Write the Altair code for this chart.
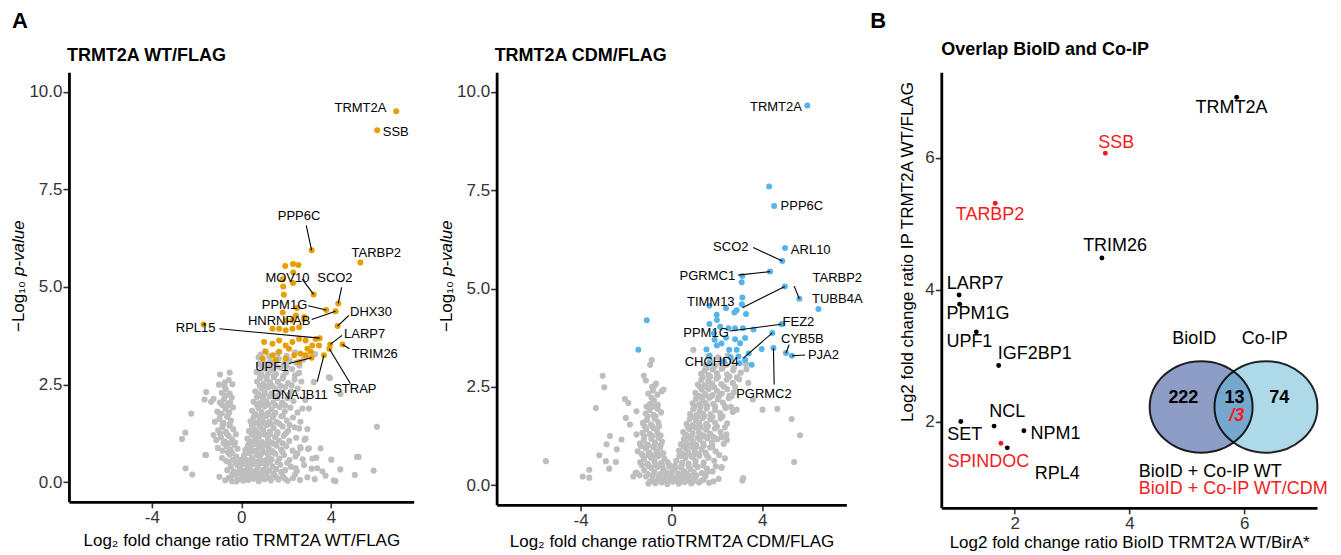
import altair as alt
import pandas as pd

FONT = "Liberation Sans"
GRAY = "#BEBEBE"
ORANGE = "#E69F00"
BLUE = "#56B4E9"
RED = "#F21D1D"

# ---------------- Panel A1: TRMT2A WT/FLAG ----------------
wt_gray_x = [
    -0.72, -0.55, -0.41, -0.28, -0.15, -0.03, 0.08, 0.19, 0.31, 0.42, 0.55, 0.66, 0.78, 0.91, 1.03, 1.17, 1.32,
    1.48, 1.66, 1.85, 2.07, 2.31, 2.62, 2.95, 3.28,
    -0.63, -0.47, -0.33, -0.18, -0.06, 0.05, 0.16, 0.27, 0.38, 0.50, 0.61, 0.73, 0.86, 0.97, 1.10, 1.24, 1.39,
    1.55, 1.74, 1.96, 2.21, 2.48, 2.80, 3.14, 3.62, 4.42,
    -0.86, -0.68, -0.52, -0.37, -0.22, -0.09, 0.12, 0.24, 0.35, 0.47, 0.59, 0.70, 0.83, 0.95, 1.08, 1.21, 1.35,
    1.52, 1.70, 1.91, 2.15, 2.42, 2.74, 3.35, 4.02,
    -1.05, -0.84, -0.66, -0.49, -0.32, -0.17, 0.18, 0.30, 0.43, 0.56, 0.68, 0.81, 0.94, 1.07, 1.22, 1.38, 1.57,
    1.77, 2.01, 2.29, 2.63, 2.98,
    -1.12, -0.91, -0.74, -0.57, -0.41, -0.24, 0.27, 0.40, 0.52, 0.65, 0.79, 0.92, 1.05, 1.19, 1.34, 1.50, 1.68,
    1.90, 2.14, 2.45, 2.82,
    -1.03, -0.85, -0.69, -0.53, -0.36, 0.34, 0.47, 0.60, 0.73, 0.86, 0.99, 1.13, 1.28, 1.44, 1.62, 1.84, 2.09,
    2.38, 2.95,
    -1.18, -0.98, -0.80, -0.63, -0.46, 0.41, 0.55, 0.68, 0.82, 0.96, 1.10, 1.25, 1.41, 1.58, 1.79, 2.03, 2.31, 2.64,
    -1.07, -0.88, -0.71, -0.54, -0.37, 0.48, 0.62, 0.76, 0.90, 1.04, 1.19, 1.35, 1.52, 1.71, 1.94, 2.19, 2.51,
    -0.96, -0.78, -0.60, -0.43, 0.55, 0.69, 0.83, 0.97, 1.12, 1.27, 1.43, 1.61, 1.82, 2.06, 2.33, 2.86,
    -0.87, -0.69, -0.52, 0.62, 0.76, 0.90, 1.04, 1.19, 1.35, 1.52, 1.72, 1.96, 2.22, 2.52,
    -0.74, -0.56, -0.40, 0.70, 0.84, 0.98, 1.13, 1.28, 1.45, 1.63, 1.85, 2.09, 2.38, 2.68,
    -0.52, 0.74, 0.89, 1.04, 1.20, 1.37, 1.55, 1.76, 2.00, 2.27, 2.58,
    0.80, 0.96, 1.12, 1.29, 1.47, 1.68, 1.91, 2.16, 2.45, 2.77, 0.86, 1.05, 1.24, 1.62, 2.02, 2.40, 2.90, 3.30,
    -0.95, -1.0, -1.64, -1.24, -0.5, -2.24, -2.5, -2.65, -1.24, -1.61, -2.49, -2.19,
    6.06, 5.17, 5.91, 5.07, 4.43, 3.96, 3.24, 4.13, -1.57, -1.35, -0.83, -1.57, -0.98,
    3.91, 2.73, 3.02, 2.58, 2.87, 2.65, 3.54, 3.02, 3.17, 3.76, 4.21, 5.24, 3.39, 2.43, 0.77, 0.68,
    # dense core
    -0.48, -0.22, 0.02, 0.25, 0.48, 0.72, 0.97, 1.25, 1.57, 1.95,
    -0.40, -0.10, 0.22, 0.45, 0.68, 0.92, 1.14, 1.42, 1.78, 2.40,
    -0.55, -0.26, 0.02, 0.30, 0.53, 0.77, 1.00, 1.28, 1.62, 2.05,
    -0.60, -0.40, 0.22, 0.45, 0.66, 0.88, 1.14, 1.44, 1.83, 2.50,
    -0.80, -0.55, -0.28, 0.36, 0.62, 0.86, 1.14, 1.45, 1.85,
    0.45, 0.72, 0.98, 1.27, 1.60, 2.00, 0.55, 0.80, 1.05, 1.33, 1.70, 2.15,
    0.62, 0.88, 1.16, 1.45, 1.85, 0.70, 0.95, 1.22, 1.52, 1.95,
    0.75, 1.00, 1.28, 1.62, 2.10, 0.82, 1.08, 1.37, 1.75, 2.25,
    0.85, 1.12, 1.45, 1.88, 2.40, 0.90, 1.20, 1.58, 2.03, 2.60,
    -0.95, -0.65, -0.83, -0.52, -0.95, -0.62, -0.85, -0.55, -0.70, -0.75,
]
wt_gray_y = [
    0.05, 0.12, 0.03, 0.18, 0.07, 0.22, 0.04, 0.15, 0.06, 0.24, 0.09, 0.17, 0.03, 0.21, 0.08, 0.14, 0.05,
    0.19, 0.07, 0.16, 0.04, 0.11, 0.06, 0.13, 0.08,
    0.31, 0.40, 0.28, 0.44, 0.35, 0.47, 0.30, 0.41, 0.33, 0.46, 0.29, 0.38, 0.49, 0.32, 0.43, 0.30, 0.41,
    0.34, 0.45, 0.31, 0.40, 0.29, 0.44, 0.35, 0.28, 0.33,
    0.62, 0.55, 0.71, 0.58, 0.66, 0.53, 0.69, 0.57, 0.75, 0.62, 0.54, 0.70, 0.60, 0.77, 0.56, 0.68, 0.59,
    0.73, 0.61, 0.70, 0.57, 0.66, 0.59, 0.63, 0.58,
    0.88, 0.81, 0.93, 0.84, 0.96, 0.86, 0.83, 0.95, 0.87, 0.99, 0.82, 0.91, 0.85, 0.97, 0.88, 0.80, 0.94,
    0.84, 0.92, 0.81, 0.90, 0.85,
    1.08, 1.15, 1.04, 1.19, 1.10, 1.23, 1.12, 1.05, 1.20, 1.09, 1.17, 1.03, 1.22, 1.11, 1.02, 1.16, 1.07,
    1.19, 1.06, 1.14, 1.09,
    1.33, 1.41, 1.29, 1.45, 1.36, 1.31, 1.44, 1.35, 1.27, 1.42, 1.33, 1.46, 1.30, 1.39, 1.28, 1.43, 1.32,
    1.41, 1.36,
    1.55, 1.62, 1.52, 1.68, 1.58, 1.56, 1.67, 1.53, 1.64, 1.57, 1.70, 1.55, 1.66, 1.54, 1.69, 1.58, 1.66, 1.55,
    1.81, 1.76, 1.88, 1.79, 1.92, 1.83, 1.75, 1.90, 1.80, 1.94, 1.77, 1.87, 1.78, 1.93, 1.82, 1.91, 1.79,
    2.04, 2.13, 2.02, 2.17, 2.06, 2.18, 2.03, 2.14, 2.07, 2.20, 2.05, 2.16, 2.04, 2.15, 2.08, 2.11,
    2.29, 2.38, 2.27, 2.33, 2.26, 2.41, 2.30, 2.43, 2.28, 2.39, 2.31, 2.44, 2.32, 2.40,
    2.55, 2.62, 2.51, 2.58, 2.67, 2.53, 2.64, 2.56, 2.69, 2.57, 2.66, 2.54, 2.63, 2.58,
    2.81, 2.83, 2.76, 2.91, 2.79, 2.88, 2.77, 2.93, 2.82, 2.90, 2.80,
    3.04, 3.13, 3.02, 3.10, 3.05, 3.16, 3.03, 3.12, 3.06, 3.14, 3.27, 3.35, 3.22, 3.30, 3.24, 3.33, 3.22, 3.28,
    2.76, 2.5, 2.12, 2.14, 2.04, 1.76, 1.27, 1.11, 1.21, 0.70, 0.36, 0.20,
    1.42, 0.65, 0.30, 0.19, 2.26, 2.67, 2.57, 0.05, 2.31, 2.06, 1.47, 0.70, 0.14,
    2.69, 1.89, 1.89, 1.38, 1.12, 0.87, 0.87, 0.87, 0.61, 0.17, 0.03, 0.65, 0.36, 0.36, 3.20, 2.82,
    # dense core
    0.10, 0.02, 0.12, 0.08, 0.14, 0.10, 0.12, 0.10, 0.12, 0.09,
    0.21, 0.27, 0.23, 0.19, 0.26, 0.24, 0.27, 0.23, 0.26, 0.20,
    0.52, 0.50, 0.58, 0.52, 0.50, 0.51, 0.50, 0.53, 0.52, 0.50,
    0.77, 0.75, 0.75, 0.79, 0.76, 0.72, 0.75, 0.76, 0.78, 0.74,
    1.00, 1.00, 1.02, 1.00, 0.98, 1.01, 0.96, 0.99, 1.00,
    1.25, 1.24, 1.26, 1.23, 1.24, 1.26, 1.50, 1.48, 1.51, 1.49, 1.50, 1.47,
    1.72, 1.71, 1.72, 1.72, 1.70, 1.98, 1.98, 1.99, 1.98, 1.97,
    2.22, 2.22, 2.21, 2.22, 2.23, 2.47, 2.46, 2.47, 2.47, 2.48,
    2.72, 2.70, 2.72, 2.73, 2.74, 2.97, 2.96, 2.97, 2.98, 2.99,
    1.25, 1.24, 1.50, 1.49, 1.73, 1.71, 1.98, 1.97, 2.22, 2.46,
]
wt_sig_x = [1.96, 2.31, 2.55, 2.32, 1.87, 2.31, 1.90, 2.49, 2.81, -1.69, 1.39, 1.69, 1.98, 2.28, 2.58,
            2.80, 1.02, 1.39, 1.69, 1.98, 2.28, 2.58, 2.87, 3.17, 2.95, 1.09, 1.39, 1.69, 2.13, 2.36,
            2.65, 2.87, 3.10, 0.95, 1.54, 1.98, 2.58, 3.32, 3.47, 2.44, 1.98, 2.28, 1.85, 1.84]
wt_sig_y = [5.54, 5.59, 5.56, 5.37, 5.01, 5.10, 4.80, 4.46, 4.23, 4.04, 3.93, 3.93, 3.89, 3.93, 3.97,
            4.18, 3.59, 3.55, 3.63, 3.50, 3.59, 3.67, 3.63, 3.50, 3.42, 3.34, 3.25, 3.34, 3.42, 3.25,
            3.29, 3.25, 3.34, 3.17, 3.13, 3.17, 3.08, 3.67, 3.50, 4.27, 4.14, 4.14, 4.35, 5.20]
wt_genes = ["TRMT2A", "SSB", "PPP6C", "TARBP2", "MOV10", "SCO2", "PPM1G", "HNRNPAB", "DHX30",
            "RPL15", "LARP7", "TRIM26", "UPF1", "DNAJB11", "STRAP"]
wt_gx = [6.92, 6.07, 3.14, 5.32, 3.23, 4.33, 3.79, 4.21, 4.30, 3.50, 3.97, 4.52, 3.14, 3.69, 3.93]
wt_gy = [9.50, 9.01, 5.94, 5.63, 4.81, 4.58, 4.41, 4.38, 4.00, 3.69, 3.53, 3.53, 3.19, 3.25, 3.42]
wt_tx = [5.32, 6.90, 2.58, 6.03, 2.06, 4.18, 1.93, 1.69, 5.79, -2.04, 5.51, 5.96, 1.36, 2.61, 5.07]
wt_ty = [9.57, 8.97, 6.82, 5.88, 5.22, 5.22, 4.54, 4.12, 4.37, 3.95, 3.80, 3.29, 2.95, 2.23, 2.40]
wt_sx = [None, None, 2.90, None, 2.72, 4.48, 2.99, 3.14, 4.80, -0.98, 4.50, 4.83, 2.13, 3.39, 4.87]
wt_sy = [None, None, 6.58, None, 5.20, 4.99, 4.52, 4.17, 4.27, 3.93, 3.76, 3.42, 3.04, 2.58, 2.53]

# ---------------- Panel A2: TRMT2A CDM/FLAG ----------------
cdm_gray_x = [
    -1.02, -0.86, -0.71, -0.57, -0.44, -0.31, -0.18, -0.06, 0.07, 0.19, 0.32, 0.45, 0.58, 0.72, 0.87, 1.03,
    1.21, 1.42, 1.66, 2.08, 3.12,
    -1.58, -1.20, -1.05, -0.90, -0.76, -0.62, -0.49, -0.36, -0.23, -0.10, 0.03, 0.16, 0.29, 0.42, 0.55, 0.69,
    0.83, 0.98, 1.15, 1.34, 1.56, 1.81, 2.20,
    -1.38, -1.21, -1.05, -0.90, -0.75, -0.60, -0.46, -0.31, -0.17, 0.21, 0.34, 0.47, 0.61, 0.75, 0.90, 1.06,
    1.23, 1.42, 1.63, 1.88, 2.35,
    -1.49, -1.30, -1.13, -0.97, -0.81, -0.66, -0.50, -0.36, 0.33, 0.46, 0.59, 0.73, 0.87, 1.01, 1.16, 1.32,
    1.50, 1.70, 1.94,
    -1.40, -1.22, -1.05, -0.89, -0.73, -0.57, -0.42, 0.41, 0.54, 0.67, 0.81, 0.95, 1.09, 1.24, 1.40, 1.58,
    1.78, 2.02, 2.30,
    -1.28, -1.11, -0.95, -0.79, -0.63, -0.48, 0.52, 0.65, 0.79, 0.93, 1.07, 1.21, 1.36, 1.52, 1.70, 1.91,
    2.16, 2.42,
    -1.25, -1.08, -0.91, -0.74, -0.58, 0.66, 0.80, 0.94, 1.08, 1.22, 1.37, 1.53, 1.71, 1.92, 2.16, 2.45,
    -1.14, -0.96, -0.79, -0.61, -0.46, 0.82, 0.96, 1.10, 1.24, 1.39, 1.55, 1.72, 1.92, 2.14, 2.38, 2.70,
    -0.95, -0.77, -0.60, 0.93, 1.07, 1.21, 1.35, 1.50, 1.66, 1.84, 2.04, 2.26, 2.52,
    -1.02, -0.82, -0.62, 1.05, 1.19, 1.33, 1.48, 1.64, 1.81, 2.00, 2.21, 2.45, 2.74,
    -0.68, 1.16, 1.31, 1.46, 1.62, 1.79, 1.98, 2.19, 2.43, 2.70, 2.98,
    1.30, 1.46, 1.63, 1.81, 2.00, 2.21, 2.45, 2.72, 3.05,
    1.50, 1.70, 1.92, 2.15, 2.40, 2.66, 3.28, 1.62, 2.05, 2.48,
    -5.53, -3.91, -3.62, -3.62, -3.33, -3.03, -2.96, -3.18, -2.89, -2.74, -2.45, -2.05,
    -1.90, -2.01, -1.83, -1.54, -1.22, -1.13, -0.87, -0.77, -0.35, -1.68, -1.54, -2.41,
    -2.86, -2.71, -2.20, -1.54, -1.10, -1.25, 5.40, 5.66, 5.29, 4.66, 4.01, 3.16, 2.44,
    2.21, 1.58, 0.96, 3.58, 3.30, 2.87, 2.65, 3.38, -0.94, -0.43,
    # dense core
    -0.95, -0.64, -0.38, -0.12, 0.13, 0.38, 0.65, 0.95, 1.30, 1.85,
    -1.40, -1.12, -0.83, -0.55, -0.28, 0.00, 0.25, 0.52, 0.80, 1.10, 1.50,
    -1.30, -1.00, -0.70, -0.40, -0.10, 0.15, 0.45, 0.75, 1.05, 1.40, 1.95,
    -1.28, -1.02, -0.75, -0.50, 0.40, 0.65, 0.95, 1.22, 1.55, 2.10,
    -1.35, -1.05, -0.75, -0.48, 0.52, 0.80, 1.10, 1.42, 1.80,
    0.60, 0.88, 1.15, 1.46, 1.85, 2.20, 0.72, 1.00, 1.28, 1.60, 2.00, 2.35,
    0.88, 1.15, 1.45, 1.80, 2.25, 1.00, 1.28, 1.58, 1.92, 2.35, 2.62,
    1.12, 1.40, 1.72, 2.10, 2.55, 1.25, 1.55, 1.88, 2.30, 2.80,
    1.38, 1.70, 2.05, 2.55, 2.88, 1.55, 1.85, 2.25, 2.75,
    -1.20, -0.85, -0.58, -1.18, -0.85, -0.55, -1.05, -0.70, -1.10, -0.80, -0.88, -0.85,
]
cdm_gray_y = [
    0.04, 0.13, 0.05, 0.19, 0.07, 0.16, 0.03, 0.21, 0.09, 0.17, 0.04, 0.22, 0.08, 0.15, 0.05, 0.19,
    0.07, 0.14, 0.06, 0.16, 0.12,
    0.31, 0.38, 0.28, 0.44, 0.33, 0.46, 0.29, 0.40, 0.32, 0.47, 0.34, 0.43, 0.30, 0.45, 0.36, 0.28,
    0.41, 0.33, 0.46, 0.31, 0.42, 0.35, 0.44,
    0.58, 0.66, 0.54, 0.70, 0.60, 0.73, 0.56, 0.67, 0.59, 0.62, 0.74, 0.57, 0.69, 0.55, 0.72, 0.61,
    0.75, 0.58, 0.70, 0.62, 0.68,
    0.86, 0.79, 0.93, 0.83, 0.97, 0.85, 0.94, 0.81, 0.88, 0.80, 0.95, 0.84, 0.98, 0.87, 0.79, 0.92,
    0.83, 0.96, 0.86,
    1.06, 1.14, 1.03, 1.18, 1.08, 1.21, 1.11, 1.04, 1.17, 1.07, 1.20, 1.10, 1.02, 1.16, 1.06, 1.19,
    1.09, 1.17, 1.05,
    1.33, 1.42, 1.30, 1.45, 1.36, 1.27, 1.35, 1.28, 1.43, 1.32, 1.46, 1.34, 1.27, 1.41, 1.31, 1.44,
    1.35, 1.29,
    1.57, 1.66, 1.54, 1.69, 1.60, 1.56, 1.68, 1.53, 1.65, 1.58, 1.71, 1.55, 1.67, 1.59, 1.70, 1.57,
    1.82, 1.91, 1.79, 1.94, 1.85, 1.81, 1.93, 1.78, 1.89, 1.82, 1.95, 1.80, 1.91, 1.83, 1.96, 1.86,
    2.06, 2.15, 2.04, 2.08, 2.19, 2.05, 2.16, 2.09, 2.22, 2.07, 2.18, 2.10, 2.21,
    2.33, 2.41, 2.30, 2.35, 2.27, 2.43, 2.32, 2.45, 2.29, 2.40, 2.33, 2.44, 2.36,
    2.58, 2.56, 2.67, 2.54, 2.65, 2.58, 2.71, 2.57, 2.68, 2.60, 2.69,
    2.83, 2.91, 2.80, 2.94, 2.84, 2.96, 2.82, 2.92, 2.86,
    3.05, 3.14, 3.03, 3.12, 3.06, 3.15, 3.08, 3.27, 3.25, 3.30,
    0.61, 0.22, 0.19, 0.39, 1.96, 2.78, 2.49, 0.76, 0.61, 0.42, 0.59, 2.19,
    2.09, 1.71, 1.54, 1.88, 2.78, 2.66, 3.18, 2.51, 2.43, 0.22, 0.32, 0.91,
    1.04, 1.25, 1.16, 1.29, 1.00, 1.59, 0.59, 1.27, 1.68, 1.94, 1.92, 0.18, 1.15,
    0.46, 0.34, 3.44, 2.18, 2.95, 1.92, 2.26, 2.60, 3.06, 2.39,
    # dense core
    0.09, 0.11, 0.12, 0.10, 0.13, 0.11, 0.12, 0.10, 0.11, 0.10,
    0.25, 0.22, 0.24, 0.23, 0.26, 0.24, 0.22, 0.26, 0.23, 0.25, 0.24,
    0.50, 0.49, 0.52, 0.50, 0.51, 0.50, 0.51, 0.49, 0.52, 0.50, 0.48,
    0.76, 0.77, 0.75, 0.78, 0.74, 0.77, 0.75, 0.78, 0.76, 0.77,
    0.99, 1.00, 0.99, 1.01, 0.99, 1.00, 0.98, 1.00, 0.99,
    1.22, 1.23, 1.21, 1.24, 1.23, 1.22, 1.48, 1.49, 1.48, 1.50, 1.49, 1.47,
    1.74, 1.74, 1.75, 1.74, 1.75, 2.00, 2.00, 2.01, 2.00, 2.01, 1.99,
    2.25, 2.26, 2.25, 2.26, 2.27, 2.50, 2.50, 2.49, 2.51, 2.50,
    2.75, 2.76, 2.75, 2.76, 2.74, 2.98, 2.99, 2.98, 2.99,
    1.24, 1.25, 1.24, 1.49, 1.50, 1.50, 1.75, 1.74, 2.00, 2.00, 2.22, 2.50,
]
cdm_sig_x = [-1.09, -1.46, 3.12, 2.87, 2.77, 1.99, 1.67, 3.28, 1.67, 2.14, 2.51, 2.80, 3.14, 3.61,
             1.87, 2.80, 3.24, 1.54, 2.54, 2.87, 3.02, 3.97, 1.68, 2.95, 3.24, 3.53, 1.68, 2.20, 2.40,
             2.00, 2.60, 3.40, 2.30, 3.00, 1.90, 4.30, 3.12, 3.09, 3.10, 2.40, 2.00]
cdm_sig_y = [4.19, 3.44, 4.77, 4.45, 4.39, 4.33, 4.56, 4.35, 4.10, 4.03, 3.99, 3.99, 3.99, 3.96,
             3.86, 3.71, 3.74, 3.45, 3.44, 3.44, 3.61, 3.46, 3.29, 3.27, 3.19, 3.06, 3.10, 3.60, 3.75,
             3.55, 3.25, 3.35, 3.15, 3.10, 3.70, 7.59, 5.32, 5.16, 4.60, 4.50, 4.20]
cdm_genes = ["TRMT2A", "PPP6C", "ARL10", "SCO2", "PGRMC1", "TARBP2", "TUBB4A", "TIMM13", "FEZ2",
             "PPM1G", "CYB5B", "PJA2", "CHCHD4", "PGRMC2"]
cdm_gx = [5.98, 4.52, 5.00, 4.88, 4.34, 5.63, 6.47, 4.99, 4.88, 4.84, 5.04, 5.30, 4.44, 4.49]
cdm_gy = [9.65, 7.10, 6.03, 5.70, 5.43, 4.74, 4.48, 5.05, 4.10, 4.09, 3.36, 3.29, 3.87, 3.49]
cdm_tx = [4.60, 5.74, 6.13, 2.61, 1.58, 7.30, 7.30, 1.73, 5.59, 1.52, 5.76, 6.69, 1.77, 4.07]
cdm_ty = [9.62, 7.09, 5.99, 6.06, 5.32, 5.26, 4.73, 4.65, 4.16, 3.87, 3.72, 3.31, 3.12, 2.32]
cdm_sx = [None, None, None, 3.60, 2.94, 5.40, None, 3.12, None, 2.58, 5.18, 5.88, 3.16, 4.52]
cdm_sy = [None, None, None, 6.04, 5.34, 5.06, None, 4.51, None, 3.92, 3.57, 3.31, 3.23, 2.56]

# ---------------- Panel B: overlap BioID and Co-IP ----------------
ov_genes = ["TRMT2A", "SSB", "TARBP2", "TRIM26", "LARP7", "PPM1G", "UPF1", "IGF2BP1", "SET",
            "NCL", "NPM1", "SPINDOC", "RPL4"]
ov_x = [5.87, 3.58, 1.66, 3.52, 1.03, 1.04, 1.33, 1.72, 1.06, 1.64, 2.16, 1.76, 1.87]
ov_y = [6.92, 6.07, 5.31, 4.48, 3.92, 3.78, 3.36, 2.85, 2.00, 1.93, 1.86, 1.67, 1.60]
ov_cdm = [False, True, True, False, False, False, False, False, False, False, False, True, False]
ov_tx = [5.78, 3.77, 1.57, 3.75, 1.31, 1.36, 1.21, 2.35, 1.13, 1.87, 2.71, 1.54, 2.74]
ov_ty = [6.76, 6.23, 5.13, 4.66, 4.09, 3.63, 3.21, 3.02, 1.80, 2.15, 1.81, 1.38, 1.21]

venn_sets = ["BioID", "Co-IP"]
venn_cx = [5.25, 6.38]
venn_cy = [2.22, 2.22]
venn_fill = ["#8E9DC6", "#5BB3D1"]
venn_counts = ["222", "13", "74"]
venn_count_x = [4.94, 5.83, 6.61]
venn_count_y = [2.35, 2.36, 2.35]
venn_label_x = [5.13, 6.36]
venn_label_y = [3.25, 3.25]
legend_text = ["BioID + Co-IP WT", "BioID + Co-IP WT/CDM"]
legend_x = [5.41, 5.81]
legend_y = [1.24, 0.97]


def one(text):
    return pd.DataFrame({"t": [text]})


def volcano(gray_x, gray_y, sig_x, sig_y, genes, gx, gy, tx, ty, sx, sy,
            color, title, xtitle, width, height, tpad, letter=None):
    gray = pd.DataFrame({"x": gray_x, "y": gray_y})
    sig = pd.DataFrame({"x": sig_x + gx, "y": sig_y + gy})
    lab = pd.DataFrame({"gene": genes, "x": gx, "y": gy, "tx": tx, "ty": ty, "sx": sx, "sy": sy})
    seg = lab.dropna(subset=["sx"])

    xs = alt.Scale(domain=[-7.7, 7.7], nice=False, zero=False)
    ys = alt.Scale(domain=[-0.5, 10.5], nice=False, zero=False)
    xa = alt.Axis(values=[-4, 0, 4], labelExpr="'' + datum.value", title=xtitle, titlePadding=tpad)
    ya = alt.Axis(values=[0, 2.5, 5, 7.5, 10], format=".1f", title=None)

    def X(f):
        return alt.X(f, type="quantitative", scale=xs, axis=xa)

    def Y(f):
        return alt.Y(f, type="quantitative", scale=ys, axis=ya)

    layers = [
        alt.Chart(gray).mark_circle(size=38, color=GRAY, opacity=1).encode(x=X("x"), y=Y("y")),
        alt.Chart(sig).mark_circle(size=36, color=color, opacity=1).encode(x=X("x"), y=Y("y")),
        alt.Chart(seg).mark_rule(color="black", strokeWidth=1.1).encode(
            x=X("sx"), y=Y("sy"), x2="x:Q", y2="y:Q"),
        alt.Chart(lab).mark_text(fontSize=13, font=FONT, color="black", baseline="middle").encode(
            x=X("tx"), y=Y("ty"), text="gene:N"),
        alt.Chart(one(title)).mark_text(align="left", baseline="alphabetic", fontSize=18,
                                        fontWeight="bold", font=FONT, color="black").encode(
            x=alt.value(-2), y=alt.value(-11), text="t:N"),
        alt.Chart(one("\u2212Log\u2081\u2080")).mark_text(angle=270, align="right", baseline="alphabetic",
                                                         fontSize=17, font=FONT, color="black").encode(
            x=alt.value(-45), y=alt.value(209), text="t:N"),
        alt.Chart(one("p-value")).mark_text(angle=270, align="left", baseline="alphabetic",
                                            fontSize=17, font=FONT, fontStyle="italic",
                                            color="black").encode(
            x=alt.value(-45), y=alt.value(204), text="t:N"),
    ]
    if letter:
        layers.append(alt.Chart(one(letter)).mark_text(align="left", baseline="alphabetic", fontSize=22,
                                                       fontWeight="bold", font=FONT, color="black").encode(
            x=alt.value(-57), y=alt.value(-44), text="t:N"))
    return alt.layer(*layers).properties(width=width, height=height)


p1 = volcano(wt_gray_x, wt_gray_y, wt_sig_x, wt_sig_y, wt_genes, wt_gx, wt_gy,
             wt_tx, wt_ty, wt_sx, wt_sy, ORANGE, "TRMT2A WT/FLAG",
             "Log\u2082 fold change ratio TRMT2A WT/FLAG", 345, 430, 7, letter="A")
p2 = volcano(cdm_gray_x, cdm_gray_y, cdm_sig_x, cdm_sig_y, cdm_genes, cdm_gx,
             cdm_gy, cdm_tx, cdm_ty, cdm_sx, cdm_sy, BLUE, "TRMT2A CDM/FLAG",
             "Log\u2082 fold change ratioTRMT2A CDM/FLAG", 350, 433, 5)

# ---- panel B
ov = pd.DataFrame({"gene": ov_genes, "x": ov_x, "y": ov_y, "tx": ov_tx, "ty": ov_ty,
                   "grp": ["cdm" if c else "wt" for c in ov_cdm]})
bxs = alt.Scale(domain=[0.72, 7.27], nice=False, zero=False)
bys = alt.Scale(domain=[0.69, 7.30], nice=False, zero=False)
bxa = alt.Axis(values=[2, 4, 6], format="d", title="Log2 fold change ratio BioID TRMT2A WT/BirA*",
               titlePadding=3)
bya = alt.Axis(values=[2, 4, 6], format="d", title=None)
grp_color = alt.Color("grp:N", scale=alt.Scale(domain=["wt", "cdm"], range=["black", RED]), legend=None)


def BX(f):
    return alt.X(f, type="quantitative", scale=bxs, axis=bxa)


def BY(f):
    return alt.Y(f, type="quantitative", scale=bys, axis=bya)


ELLIPSE = "M-1,0A1,0.89,0,1,1,1,0A1,0.89,0,1,1,-1,0Z"
venn = pd.DataFrame({"set": venn_sets, "x": venn_cx, "y": venn_cy, "fill": venn_fill})
cnt = pd.DataFrame({"t": venn_counts, "x": venn_count_x, "y": venn_count_y})
vlab = pd.DataFrame({"t": venn_sets, "x": venn_label_x, "y": venn_label_y})
leg = pd.DataFrame({"t": legend_text, "x": legend_x, "y": legend_y, "grp": ["wt", "cdm"]})

p3 = alt.layer(
    alt.Chart(venn.iloc[[0]]).mark_point(shape=ELLIPSE, size=10609, filled=True, opacity=1,
                                          strokeWidth=0, color=venn_fill[0]).encode(x=BX("x"), y=BY("y")),
    alt.Chart(venn.iloc[[1]]).mark_point(shape=ELLIPSE, size=10609, filled=True, opacity=0.5,
                                          strokeWidth=0, color=venn_fill[1]).encode(x=BX("x"), y=BY("y")),
    alt.Chart(venn).mark_point(shape=ELLIPSE, size=10609, filled=False, opacity=0.85,
                               strokeWidth=2, color="black").encode(x=BX("x"), y=BY("y")),
    alt.Chart(cnt).mark_text(fontSize=18, fontWeight="bold", font=FONT, color="black",
                             baseline="middle").encode(x=BX("x"), y=BY("y"), text="t:N"),
    alt.Chart(pd.DataFrame({"t": ["/3"], "x": [5.87], "y": [2.09]})).mark_text(
        fontSize=18, fontWeight="bold", fontStyle="italic", font=FONT, color=RED,
        baseline="middle").encode(x=BX("x"), y=BY("y"), text="t:N"),
    alt.Chart(vlab).mark_text(fontSize=18, font=FONT, color="black", baseline="middle").encode(
        x=BX("x"), y=BY("y"), text="t:N"),
    alt.Chart(leg).mark_text(fontSize=18, font=FONT, baseline="middle").encode(
        x=BX("x"), y=BY("y"), text="t:N", color=grp_color),
    alt.Chart(ov).mark_circle(size=24, opacity=1).encode(x=BX("x"), y=BY("y"), color=grp_color),
    alt.Chart(ov).mark_text(fontSize=18, font=FONT, baseline="middle").encode(
        x=BX("tx"), y=BY("ty"), text="gene:N", color=grp_color),
    alt.Chart(one("Overlap BioID and Co-IP")).mark_text(align="left", baseline="alphabetic", fontSize=18,
                                                        fontWeight="bold", font=FONT, color="black").encode(
        x=alt.value(0), y=alt.value(-17), text="t:N"),
    alt.Chart(one("Log2 fold change ratio IP TRMT2A WT/FLAG")).mark_text(
        angle=270, align="center", baseline="alphabetic", fontSize=17, font=FONT, color="black").encode(
        x=alt.value(-28), y=alt.value(180), text="t:N"),
    alt.Chart(one("B")).mark_text(align="left", baseline="alphabetic", fontSize=22, fontWeight="bold",
                                  font=FONT, color="black").encode(
        x=alt.value(-71), y=alt.value(-44), text="t:N"),
).properties(width=376, height=436)


def spacer(w):
    return alt.Chart(one("")).mark_text().encode(
        x=alt.value(0), y=alt.value(0), text="t:N").properties(width=w, height=10)


chart = alt.hconcat(
    p1, spacer(83), p2, spacer(95), p3, spacing=0, bounds="flush"
).properties(
    padding={"left": 2, "top": 2, "right": 5, "bottom": 2}
).configure_view(stroke=None).configure_axis(
    grid=False, domainColor="black", domainWidth=2.8, tickColor="#333333", tickWidth=1.6, tickSize=6,
    labelFont=FONT, labelFontSize=17, labelColor="#333333", titleFont=FONT, titleFontSize=17,
    titleFontWeight="normal", titleColor="black"
).configure_axisX(labelPadding=2).configure_axisY(labelPadding=1)

chart.save("out.html", embed_options={"renderer": "svg", "actions": False})
